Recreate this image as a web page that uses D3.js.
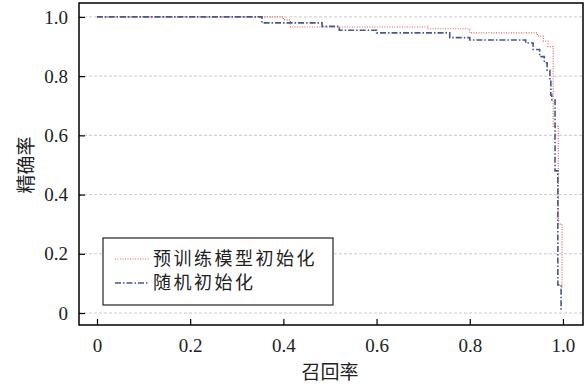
<!DOCTYPE html>
<html>
<head>
<meta charset="utf-8">
<script src="https://cdn.jsdelivr.net/npm/d3@7"></script>
<style>
  body { margin: 0; background: #fff; }
  svg { display: block; }
</style>
</head>
<body>
<svg id="chart" width="587" height="387"></svg>
<script>
// tick values
const x_ticks = [0, 0.2, 0.4, 0.6, 0.8, 1.0];
const y_ticks = [0, 0.2, 0.4, 0.6, 0.8, 1.0];
const x_tick_labels = ["0", "0.2", "0.4", "0.6", "0.8", "1.0"];
const y_tick_labels = ["0", "0.2", "0.4", "0.6", "0.8", "1.0"];

// series: recall / precision (step after)
const pretrain_recall    = [0, 0.40, 0.415, 0.71, 0.80, 0.945, 0.958, 0.968, 0.979, 0.99, 0.998];
const pretrain_precision = [1.0, 0.99, 0.966, 0.96, 0.946, 0.935, 0.918, 0.9, 0.63, 0.30, 0.08];

const random_recall    = [0, 0.354, 0.483, 0.52, 0.60, 0.757, 0.80, 0.92, 0.936, 0.95, 0.96, 0.966, 0.972, 0.974, 0.976, 0.983, 0.989, 0.996];
const random_precision = [1.0, 0.98, 0.968, 0.955, 0.946, 0.93, 0.922, 0.912, 0.89, 0.866, 0.845, 0.82, 0.787, 0.736, 0.72, 0.48, 0.095, 0.01];

const legend_labels = ["预训练模型初始化", "随机初始化"];

const svg = d3.select("#chart");
const plot_left = 79, plot_right = 583, plot_top = 3, plot_bottom = 325;

const xScale = d3.scaleLinear().domain([-0.0386, 1.043]).range([plot_left, plot_right]);
const yScale = d3.scaleLinear().domain([-0.0405, 1.047]).range([plot_bottom, plot_top]);

const serif = "'Liberation Serif', 'DejaVu Serif', serif";
const cjk = "'Noto Sans CJK SC', sans-serif";

// grid
svg.append('g')
    .selectAll('line')
    .data(y_ticks)
    .enter()
    .append('line')
    .attr('x1', plot_left).attr('x2', plot_right)
    .attr('y1', d => yScale(d)).attr('y2', d => yScale(d))
    .attr('stroke', '#c9c9c9')
    .attr('stroke-width', 1)
    .attr('stroke-dasharray', '3,2');

// lines
const toPoints = (xs, ys) => xs.map((x, i) => [x, ys[i]]);
const line = d3.line()
    .x(d => xScale(d[0]))
    .y(d => yScale(d[1]))
    .curve(d3.curveStepAfter);

const redColor = '#e8605c';
const blueColor = '#46578c';

svg.append('path')
    .attr('d', line(toPoints(pretrain_recall, pretrain_precision)))
    .attr('fill', 'none')
    .attr('stroke', redColor)
    .attr('stroke-width', 1.2)
    .attr('stroke-dasharray', '1,1.5');

svg.append('path')
    .attr('d', line(toPoints(random_recall, random_precision)))
    .attr('fill', 'none')
    .attr('stroke', blueColor)
    .attr('stroke-width', 1.6)
    .attr('stroke-dasharray', '6,2,1.5,2');

// axes
const xAxis = svg.append('g')
    .attr('transform', `translate(0, ${plot_bottom})`)
    .call(d3.axisBottom(xScale).tickValues(x_ticks).tickSize(-6).tickPadding(14)
        .tickFormat((d, i) => x_tick_labels[i]));
xAxis.select('.domain').remove();
xAxis.selectAll('.tick line').attr('stroke', '#000').attr('stroke-width', 1.2);
xAxis.selectAll('.tick text')
    .attr('font-family', serif).attr('font-size', 19).attr('fill', '#222')
    .attr('dy', '0.71em');

const yAxis = svg.append('g')
    .attr('transform', `translate(${plot_left}, 0)`)
    .call(d3.axisLeft(yScale).tickValues(y_ticks).tickSize(-6).tickPadding(11)
        .tickFormat((d, i) => y_tick_labels[i]));
yAxis.select('.domain').remove();
yAxis.selectAll('.tick line').attr('stroke', '#000').attr('stroke-width', 1.2);
yAxis.selectAll('.tick text')
    .attr('font-family', serif).attr('font-size', 19).attr('fill', '#222');

// frame
svg.append('rect')
    .attr('x', plot_left).attr('y', plot_top)
    .attr('width', plot_right - plot_left).attr('height', plot_bottom - plot_top)
    .attr('fill', 'none').attr('stroke', '#000').attr('stroke-width', 1.5);

// axis titles
svg.append('text')
    .attr('x', xScale(0.5)).attr('y', 379)
    .attr('text-anchor', 'middle')
    .attr('font-family', cjk).attr('font-size', 19).attr('fill', '#222')
    .text('召回率');

svg.append('text')
    .attr('transform', `translate(33, ${yScale(0.5)}) rotate(-90)`)
    .attr('text-anchor', 'middle')
    .attr('font-family', cjk).attr('font-size', 19).attr('fill', '#222')
    .text('精确率');

// legend
const legend = svg.append('g');
legend.append('rect')
    .attr('x', 103).attr('y', 238).attr('width', 230).attr('height', 67)
    .attr('fill', '#fff').attr('stroke', '#222').attr('stroke-width', 1.2);

const legendStyles = [
    { color: redColor, width: 1.2, dash: '1,1.5' },
    { color: blueColor, width: 1.6, dash: '6,2,1.5,2' }
];
legend_labels.forEach((label, i) => {
    const yy = 259 + i * 24;
    legend.append('line')
        .attr('x1', 115).attr('x2', 149).attr('y1', yy).attr('y2', yy)
        .attr('stroke', legendStyles[i].color)
        .attr('stroke-width', legendStyles[i].width)
        .attr('stroke-dasharray', legendStyles[i].dash);
    legend.append('text')
        .attr('x', 153).attr('y', yy + 6)
        .attr('font-family', cjk).attr('font-size', 18).attr('fill', '#222')
        .attr('letter-spacing', 2.5)
        .text(label);
});
</script>
</body>
</html>
